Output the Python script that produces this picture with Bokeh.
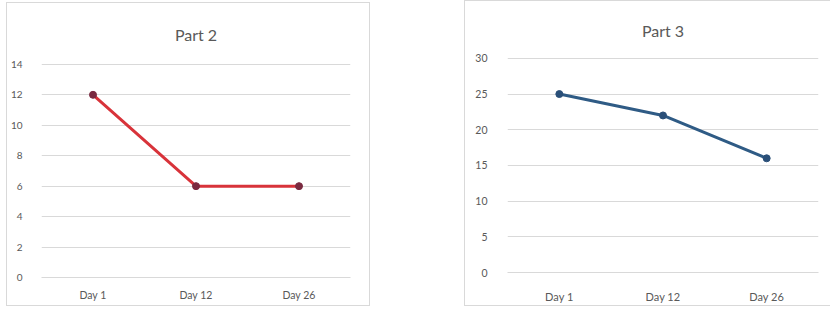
from bokeh.plotting import figure
from bokeh.layouts import row, column
from bokeh.models import Spacer, FixedTicker
from bokeh.embed import file_html
from bokeh.resources import INLINE

days = ["Day 1", "Day 12", "Day 26"]
part2_values = [12, 6, 6]
part3_values = [25, 22, 16]
part2_ticks = [0, 2, 4, 6, 8, 10, 12, 14]
part3_ticks = [0, 5, 10, 15, 20, 25, 30]

FONT = "Lato"
TXT = "#595959"
GRID = "#d9d9d9"


def make_chart(title, values, ticks, ymax, width, height, bl, br, bt, bb,
               line_color, marker_color, standoff, xfs, yfs, xso, yso):
    p = figure(x_range=days, y_range=(0, ymax * 1.004), width=width, height=height,
               output_backend="svg", toolbar_location=None,
               min_border_left=bl, min_border_right=br,
               min_border_top=bt, min_border_bottom=bb, title=title)
    p.title.align = "center"
    p.title.vertical_align = "middle"
    p.title.text_font = FONT
    p.title.text_font_style = "normal"
    p.title.text_font_size = "16px"
    p.title.text_color = TXT
    p.title.standoff = standoff
    p.outline_line_color = None
    p.xgrid.grid_line_color = None
    p.ygrid.grid_line_color = GRID
    p.ygrid.grid_line_width = 1
    p.yaxis.ticker = FixedTicker(ticks=ticks)
    for ax in (p.xaxis, p.yaxis):
        ax.axis_line_color = None
        ax.major_tick_line_color = None
        ax.minor_tick_line_color = None
        ax.major_label_text_font = FONT
        ax.major_label_text_color = TXT
    p.xaxis.major_label_text_font_size = xfs
    p.yaxis.major_label_text_font_size = yfs
    p.xaxis.axis_line_color = GRID
    p.xaxis.major_label_standoff = xso
    p.yaxis.major_label_standoff = yso
    p.line(days, values, line_color=line_color, line_width=3)
    p.scatter(days, values, size=7, fill_color=marker_color,
              line_color=marker_color)
    p.styles = {"outline": "1px solid #d9d9d9"}
    return p


p1 = make_chart("Part 2", part2_values, part2_ticks, 14, 362, 302,
                33, 19, 60, 28, "#d8333a", "#7a2a40", 38,
                "10.5px", "10px", 5, 13)
p2 = make_chart("Part 3", part3_values, part3_ticks, 30, 365, 304,
                42, 12, 56, 27, "#2f5b85", "#2a4f78", 34,
                "11px", "10.5px", 11, 14)

left = column(Spacer(height=3), p1)
right = column(Spacer(height=1), p2)
layout = row(Spacer(width=7), left, Spacer(width=96), right)
open("out.html", "w").write(file_html(layout, INLINE))
